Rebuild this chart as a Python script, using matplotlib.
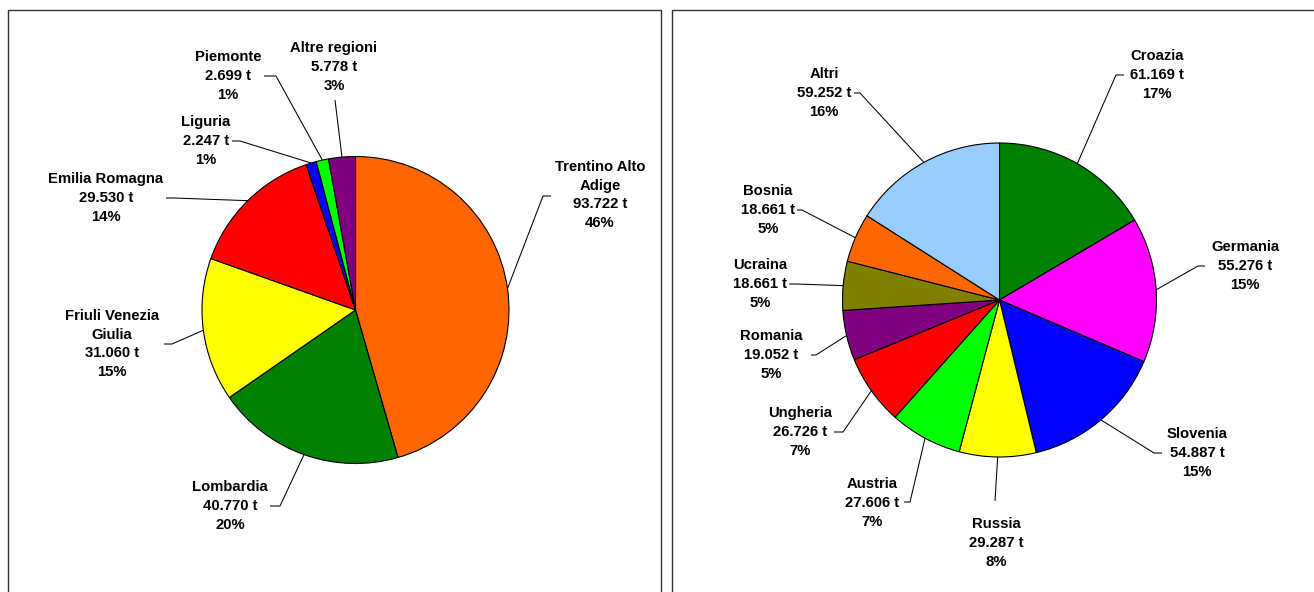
import matplotlib
matplotlib.use("Agg")
import matplotlib.pyplot as plt
from matplotlib.patches import Rectangle
import numpy as np

# ---- data -------------------------------------------------------------
regioni = ["Trentino Alto\nAdige", "Lombardia", "Friuli Venezia\nGiulia",
           "Emilia Romagna", "Liguria", "Piemonte", "Altre regioni"]
regioni_t = [93722, 40770, 31060, 29530, 2247, 2699, 5778]
regioni_col = ["#FF6600", "#008000", "#FFFF00", "#FF0000", "#0000FF",
               "#00FF00", "#800080"]

paesi = ["Croazia", "Germania", "Slovenia", "Russia", "Austria", "Ungheria",
         "Romania", "Ucraina", "Bosnia", "Altri"]
paesi_t = [61169, 55276, 54887, 29287, 27606, 26726, 19052, 18661, 18661, 59252]
paesi_col = ["#008000", "#FF00FF", "#0000FF", "#FFFF00", "#00FF00", "#FF0000",
             "#800080", "#808000", "#FF6600", "#99CCFF"]

# ---- layout (pixel coordinates, measured from the top-left corner) ----
W, H = 1314, 592

# label centre, leader elbow, end of horizontal stub (None = no stub)
regioni_layout = [
    ((600, 195), (543, 196), (551, 196)),
    ((230, 506), (280, 506), (270, 506)),
    ((112, 344), (172, 344), (164, 344)),
    ((106, 198), (174, 198), (166, 198)),
    ((206, 141), (240, 141), (232, 141)),
    ((228, 76), (276, 76), (264, 76)),
    ((334, 67), (335, 100), None),
]
paesi_layout = [
    ((1157, 75), (1116, 75), (1124, 75)),
    ((1245, 266), (1198, 266), (1205, 266)),
    ((1197, 453), (1154, 453), (1162, 453)),
    ((996, 543), (995, 501), None),
    ((872, 503), (910, 502), (904, 502)),
    ((800, 432), (843, 432), (834, 432)),
    ((771, 355), (816, 355), (811, 355)),
    ((760, 284), (797, 284), (789, 284)),
    ((768, 210), (802, 210), (797, 210)),
    ((824, 93), (860, 93), (854, 93)),
]

plt.rcParams["font.family"] = ["Liberation Sans", "DejaVu Sans"]

fig = plt.figure(figsize=(W / 100, H / 100), dpi=100)
ax = fig.add_axes([0, 0, 1, 1])
ax.set_xlim(0, W)
ax.set_ylim(0, H)
ax.set_aspect("equal")
ax.axis("off")


def fy(y):
    return H - y


def fmt_t(v):
    return f"{v:,}".replace(",", ".") + " t"


def draw_pie(names, values, colors, layout, center, radius):
    cx, cy = center[0], fy(center[1])
    total = sum(values)
    wedges, _ = ax.pie(values, colors=colors, startangle=90, counterclock=False,
                       center=(cx, cy), radius=radius, frame=True,
                       wedgeprops=dict(edgecolor="black", linewidth=0.8))
    for w, name, v, (txt, elbow, stub) in zip(wedges, names, values, layout):
        ang = np.deg2rad((w.theta1 + w.theta2) / 2)
        sx, sy = cx + radius * np.cos(ang), cy + radius * np.sin(ang)
        xs = [sx, elbow[0]]
        ys = [sy, fy(elbow[1])]
        if stub is not None:
            xs.append(stub[0])
            ys.append(fy(stub[1]))
        ax.plot(xs, ys, color="black", lw=0.75, solid_capstyle="butt")
        pct = round(v / total * 100)
        ax.text(txt[0], fy(txt[1]), f"{name}\n{fmt_t(v)}\n{pct}%",
                ha="center", va="center", multialignment="center",
                fontsize=10.7, fontweight="bold", linespacing=1.45,
                color="black")


# panel frames
ax.add_patch(Rectangle((8, fy(605)), 653, 595, fill=False,
                       edgecolor="#333333", lw=1.0, clip_on=False))
ax.add_patch(Rectangle((671.5, fy(605)), 660, 595, fill=False,
                       edgecolor="#333333", lw=1.0, clip_on=False))

draw_pie(regioni, regioni_t, regioni_col, regioni_layout, (355.5, 310), 153.5)
draw_pie(paesi, paesi_t, paesi_col, paesi_layout, (999.5, 300), 157)

ax.set_xlim(0, W)
ax.set_ylim(0, H)
ax.axis("off")

fig.savefig("out.png", dpi=100)
